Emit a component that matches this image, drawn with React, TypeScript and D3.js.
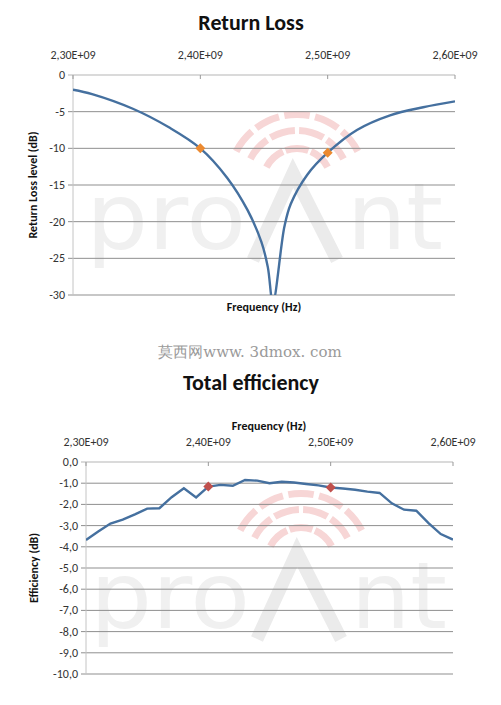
import * as d3 from 'd3'

// frequencies in MHz
const rlFreq = [
  2300, 2315, 2347, 2376, 2400, 2421, 2437, 2448, 2453, 2457, 2466, 2471, 2484, 2500, 2523, 2549,
  2575, 2600,
]
const rlValue = [
  -2.0, -2.6, -4.6, -7.2, -10.0, -14.0, -18.4, -22.8, -26.2, -31.0, -20.7, -17.6, -13.6, -10.6,
  -7.5, -5.5, -4.4, -3.6,
]
const rlMarkers = [
  { f: 2400, v: -10.0 },
  { f: 2500, v: -10.6 },
]

const effFreq = d3.range(2300, 2601, 10)
const effValue = [
  -3.68, -3.28, -2.9, -2.72, -2.47, -2.2, -2.18, -1.66, -1.24, -1.67, -1.16, -1.08, -1.12, -0.85,
  -0.88, -1.0, -0.93, -0.97, -1.04, -1.1, -1.2, -1.25, -1.31, -1.4, -1.46, -1.95, -2.25, -2.3,
  -2.88, -3.4, -3.66,
]
const effMarkers = [
  { f: 2400, v: -1.16 },
  { f: 2500, v: -1.2 },
]

const xTicks = [2300, 2400, 2500, 2600]
const xTickLabels = ['2,30E+09', '2,40E+09', '2,50E+09', '2,60E+09']
const rlTicks = [0, -5, -10, -15, -20, -25, -30]
const effTicks = d3.range(0, -10.5, -1)

const font = 'Carlito, Lato, "Open Sans", sans-serif'
const lineColor = '#45709f'

function Watermark({ ax, ay }: { ax: number; ay: number }) {
  // ax, ay: apex of the "A"
  const rings = [
    { r: 38, n: 3 },
    { r: 56, n: 4 },
    { r: 72, n: 5 },
  ]
  const arc = d3.arc()
  const span = Math.PI * 0.36
  return (
    <g>
      {rings.map(({ r, n }) =>
        d3.range(n).map((k) => {
          const step = (2 * span) / n
          const a0 = -span + k * step + 0.04
          const a1 = -span + (k + 1) * step - 0.04
          return (
            <path
              key={`${r}-${k}`}
              d={arc({ innerRadius: r - 7, outerRadius: r, startAngle: a0, endAngle: a1 }) as string}
              transform={`translate(${ax + 4},${ay + 10})`}
              fill="#f7d6d6"
            />
          )
        })
      )}
      <text
        x={ax - 207}
        y={ay + 76}
        fontFamily='"DejaVu Sans", sans-serif'
        fontSize={92}
        fill="#f0f0f0"
        textLength={160}
        lengthAdjust="spacingAndGlyphs"
      >
        pro
      </text>
      <path
        d={`M${ax - 40},${ay + 87} L${ax},${ay} L${ax + 44},${ay + 87}`}
        fill="none"
        stroke="#ebebeb"
        strokeWidth={13}
      />
      <text
        x={ax + 54}
        y={ay + 76}
        fontFamily='"DejaVu Sans", sans-serif'
        fontSize={92}
        fill="#f0f0f0"
        textLength={96}
        lengthAdjust="spacingAndGlyphs"
      >
        nt
      </text>
    </g>
  )
}

function Diamond({ cx, cy, fill }: { cx: number; cy: number; fill: string }) {
  const s = 5
  return <path d={`M${cx},${cy - s}L${cx + s},${cy}L${cx},${cy + s}L${cx - s},${cy}Z`} fill={fill} />
}

type PanelProps = {
  id: string
  freq: number[]
  values: number[]
  markers: { f: number; v: number }[]
  markerColor: string
  yTicks: number[]
  yFormat: (v: number) => string
  left: number
  right: number
  top: number
  bottom: number
  yTitle: string
  yTitleX: number
  curve: d3.CurveFactory
}

function Panel({
  id,
  freq,
  values,
  markers,
  markerColor,
  yTicks,
  yFormat,
  left,
  right,
  top,
  bottom,
  yTitle,
  yTitleX,
  curve,
}: PanelProps) {
  const x = d3.scaleLinear([2300, 2600], [left, right])
  const y = d3.scaleLinear([d3.max(yTicks)!, d3.min(yTicks)!], [top, bottom])
  const line = d3
    .line<number>()
    .x((_, i) => x(freq[i]))
    .y((v) => y(v))
    .curve(curve)

  return (
    <g>
      <clipPath id={id}>
        <rect x={left} y={top} width={right - left} height={bottom - top} />
      </clipPath>
      {yTicks.map((t, i) => (
        <g key={t}>
          <line
            x1={left - 5}
            x2={right}
            y1={y(t)}
            y2={y(t)}
            stroke={i === 0 ? '#b5b5b5' : '#8f8f8f'}
            strokeWidth={1}
          />
          <text
            x={left - 8}
            y={y(t) + 4}
            textAnchor="end"
            fontFamily={font}
            fontSize={12}
            fill="#333"
          >
            {yFormat(t)}
          </text>
        </g>
      ))}
      <line x1={left} x2={left} y1={top} y2={bottom} stroke="#c4c4c4" />
      {xTicks.map((t, i) => (
        <g key={t}>
          <line x1={x(t)} x2={x(t)} y1={top} y2={top + 4} stroke="#999" />
          <text
            x={x(t)}
            y={top - 16}
            textAnchor="middle"
            fontFamily={font}
            fontSize={12}
            fill="#333"
          >
            {xTickLabels[i]}
          </text>
        </g>
      ))}
      <path
        d={line(values) as string}
        fill="none"
        stroke={lineColor}
        strokeWidth={2.4}
        clipPath={`url(#${id})`}
      />
      {markers.map((m) => (
        <Diamond key={m.f} cx={x(m.f)} cy={y(m.v)} fill={markerColor} />
      ))}
      <text
        transform={`translate(${yTitleX},${(top + bottom) / 2}) rotate(-90)`}
        textAnchor="middle"
        fontFamily={font}
        fontWeight="bold"
        fontSize={12}
        fill="#111"
      >
        {yTitle}
      </text>
    </g>
  )
}

export default function App() {
  return (
    <svg
      width={501}
      height={705}
      style={{ position: 'absolute', left: 0, top: 0, background: '#fff' }}
    >
      <rect width={501} height={705} fill="#fff" />
      <Watermark ax={293} ay={173} />
      <Watermark ax={297} ay={552} />

      <text x={251} y={30} textAnchor="middle" fontFamily={font} fontWeight="bold" fontSize={22} fill="#111">
        Return Loss
      </text>
      <Panel
        id="clipRL"
        freq={rlFreq}
        values={rlValue}
        markers={rlMarkers}
        markerColor="#ec8a30"
        yTicks={rlTicks}
        yFormat={(v) => String(v)}
        left={73}
        right={455}
        top={75}
        bottom={295}
        yTitle="Return Loss level (dB)"
        yTitleX={37}
        curve={d3.curveCatmullRom.alpha(0.5)}
      />
      <text x={264} y={311} textAnchor="middle" fontFamily={font} fontWeight="bold" fontSize={12} fill="#111">
        Frequency (Hz)
      </text>

      <text x={250} y={357} textAnchor="middle" fontFamily='"DejaVu Serif", serif' fontSize={15} fill="#9a9a9a">
        莫西网www. 3dmox. com
      </text>

      <text x={251} y={390} textAnchor="middle" fontFamily={font} fontWeight="bold" fontSize={22} fill="#111">
        Total efficiency
      </text>
      <text x={269} y={430} textAnchor="middle" fontFamily={font} fontWeight="bold" fontSize={12} fill="#111">
        Frequency (Hz)
      </text>
      <Panel
        id="clipEff"
        freq={effFreq}
        values={effValue}
        markers={effMarkers}
        markerColor="#c0504d"
        yTicks={effTicks}
        yFormat={(v) => d3.format('.1f')(v).replace('.', ',').replace('−', '-')}
        left={86}
        right={453}
        top={462}
        bottom={674}
        yTitle="Efficiency (dB)"
        yTitleX={38}
        curve={d3.curveLinear}
      />
    </svg>
  )
}
